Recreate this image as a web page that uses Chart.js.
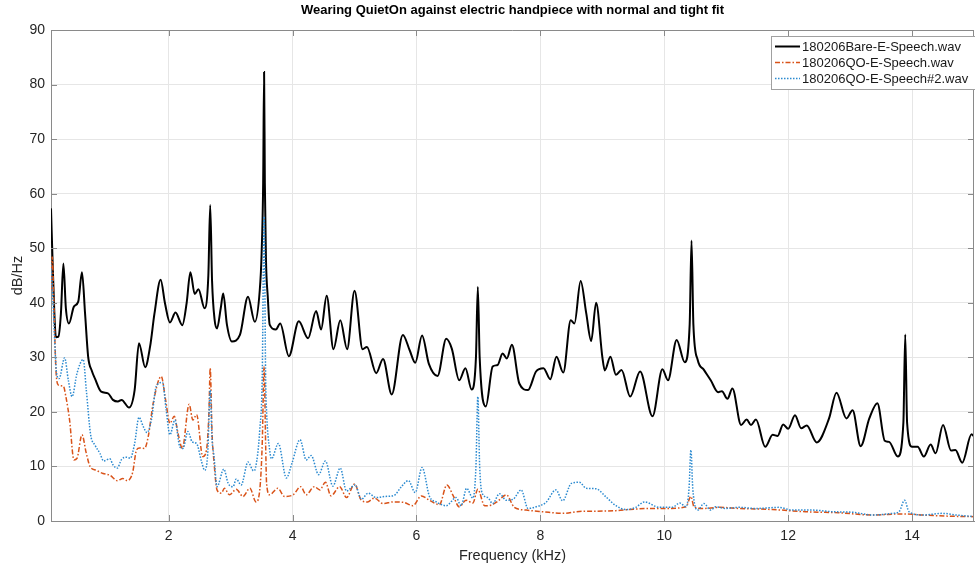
<!DOCTYPE html>
<html>
<head>
<meta charset="utf-8">
<script src="https://cdn.jsdelivr.net/npm/chart.js@4.4.1/dist/chart.umd.min.js"></script>
<style>
  html, body { margin: 0; padding: 0; background: #fff; }
</style>
</head>
<body>
<canvas id="psd" width="975" height="570"></canvas>
<script>
// values (kHz, dB/Hz)
var freqBare = [0.10, 0.13, 0.18, 0.22, 0.26, 0.30, 0.34, 0.39, 0.47, 0.54, 0.60, 0.65, 0.70, 0.76, 0.81, 0.91,
  1.02, 1.10, 1.18, 1.24, 1.36, 1.45, 1.52, 1.62, 1.70, 1.77, 1.87, 1.94, 2.02, 2.11, 2.22, 2.29, 2.35, 2.42,
  2.48, 2.58, 2.64, 2.67, 2.70, 2.74, 2.78, 2.84, 2.88, 2.94, 3.02, 3.15, 3.28, 3.39, 3.47, 3.50, 3.525, 3.54,
  3.552, 3.57, 3.60, 3.63, 3.73, 3.80, 3.94, 4.10, 4.25, 4.38, 4.46, 4.55, 4.66, 4.77, 4.88, 5.00, 5.13, 5.20,
  5.35, 5.46, 5.60, 5.78, 5.89, 5.98, 6.09, 6.20, 6.34, 6.48, 6.57, 6.69, 6.79, 6.89, 6.96, 6.99, 7.02, 7.12,
  7.23, 7.31, 7.39, 7.46, 7.54, 7.66, 7.80, 7.93, 8.05, 8.16, 8.26, 8.37, 8.49, 8.55, 8.65, 8.74, 8.82, 8.90,
  9.00, 9.04, 9.13, 9.22, 9.31, 9.45, 9.61, 9.81, 9.97, 10.06, 10.20, 10.33, 10.41, 10.44, 10.47, 10.54, 10.64,
  10.75, 10.87, 10.93, 11.02, 11.10, 11.24, 11.33, 11.40, 11.48, 11.63, 11.75, 11.83, 11.92, 12.00, 12.11,
  12.21, 12.30, 12.46, 12.66, 12.78, 12.94, 13.04, 13.17, 13.31, 13.44, 13.56, 13.63, 13.77, 13.86, 13.89,
  13.92, 14.00, 14.09, 14.19, 14.30, 14.38, 14.50, 14.63, 14.70, 14.81, 14.96, 15.00];
var dbBare = [57.3, 46, 33.7, 33.8, 38, 47.2, 39, 36.2, 39.3, 40.2, 45.6, 38, 30.1, 27.5, 26.1, 23.7,
  23.4, 22.2, 21.9, 22.2, 20.8, 24, 32.6, 28.2, 32, 38, 44.2, 39.9, 36.4, 38.2, 35.9, 40, 45.6, 41.6,
  42.5, 39, 45, 57.9, 44, 37, 35.3, 39, 41.7, 36, 32.9, 34.1, 41.1, 36.5, 42.3, 49, 62, 82.3,
  62, 48, 41, 36, 35.1, 36.2, 30.2, 36.6, 33.5, 38.5, 35.1, 41.3, 31.5, 36.8, 31.5, 42.2, 31.5, 31.9,
  27.1, 29.7, 23.2, 34.1, 31.3, 29.0, 34.0, 28.8, 26.6, 33.4, 31.6, 25.8, 28.0, 24.1, 30, 42.9, 30, 21.0,
  28.3, 28.6, 30.7, 29.8, 32.3, 25.2, 24.0, 27.4, 28.0, 26.0, 30.1, 27.2, 36.8, 36.2, 44.0, 38.1, 33.0, 40.0,
  30.1, 27.6, 30.1, 26.8, 27.7, 22.8, 27.4, 19.2, 27.8, 25.8, 33.2, 29.1, 36, 51.4, 36, 29.5, 27.7,
  25.8, 23.6, 23.8, 22.4, 24.3, 17.6, 18.6, 17.6, 18.6, 13.6, 15.8, 15.6, 17.7, 16.9, 19.4,
  17.0, 17.5, 14.4, 18.8, 23.5, 18.8, 20.3, 13.7, 18.8, 21.6, 14.7, 14.5, 11.8, 18, 34.2,
  18, 13.6, 13.6, 11.8, 14.0, 12.4, 17.6, 12.9, 13.0, 10.7, 15.9, 15.5];

var freqQO = [0.10, 0.12, 0.15, 0.18, 0.22, 0.30, 0.34, 0.40, 0.47, 0.52, 0.60, 0.67, 0.73, 0.83, 0.94, 1.05,
  1.17, 1.26, 1.33, 1.38, 1.42, 1.48, 1.53, 1.61, 1.67, 1.75, 1.88, 1.95, 2.02, 2.09, 2.15, 2.22, 2.33, 2.39,
  2.45, 2.55, 2.61, 2.65, 2.67, 2.70, 2.73, 2.78, 2.85, 2.90, 2.98, 3.09, 3.20, 3.31, 3.41, 3.47, 3.51, 3.54,
  3.565, 3.58, 3.63, 3.76, 3.87, 4.01, 4.13, 4.22, 4.35, 4.44, 4.53, 4.62, 4.76, 4.87, 5.00, 5.11, 5.21, 5.32,
  5.46, 5.62, 5.80, 5.94, 6.08, 6.21, 6.37, 6.49, 6.59, 6.69, 6.80, 6.91, 6.99, 7.10, 7.20, 7.31, 7.45, 7.58,
  7.77, 8.04, 8.36, 8.68, 8.90, 9.22, 9.44, 9.76, 10.02, 10.35, 10.43, 10.48, 10.62, 10.89, 11.21, 11.75,
  12.28, 12.82, 13.36, 13.84, 14.17, 14.54, 15.00];
var dbQO = [42.3, 48.4, 38, 27.7, 24.9, 24.7, 22.8, 18.5, 11.2, 11.5, 15.8, 12.4, 10.0, 9.3, 8.7, 8.4,
  7.4, 7.8, 7.4, 7.8, 9.0, 13.0, 13.4, 13.3, 15.5, 21.6, 26.5, 22.2, 17.9, 19.2, 16.1, 13.3, 21.4, 18.5,
  19.5, 11.8, 13.0, 20, 28.0, 16, 11, 5.7, 5.1, 6.0, 4.8, 5.8, 4.5, 6.0, 3.5, 5.7, 14.2, 28.3,
  14, 6.9, 4.8, 6.0, 4.5, 4.8, 6.3, 4.8, 6.3, 5.7, 7.1, 4.6, 6.3, 4.3, 6.8, 3.8, 3.5, 4.2,
  3.2, 3.5, 3.4, 2.8, 4.6, 3.8, 3.0, 6.6, 4.7, 2.6, 3.8, 3.3, 5.8, 2.8, 2.9, 3.6, 4.8, 2.5,
  2.0, 1.7, 1.4, 1.8, 1.8, 1.9, 2.1, 2.3, 2.3, 2.6, 4.5, 2.6, 2.3, 2.5, 2.3, 2.1,
  1.7, 1.5, 1.1, 1.3, 1.1, 0.9, 0.8];

var freqQO2 = [0.10, 0.13, 0.15, 0.19, 0.23, 0.32, 0.38, 0.44, 0.52, 0.62, 0.67, 0.74, 0.81, 0.89, 0.95, 1.05,
  1.10, 1.17, 1.24, 1.32, 1.38, 1.45, 1.52, 1.59, 1.65, 1.72, 1.80, 1.90, 1.96, 2.02, 2.10, 2.18, 2.23, 2.31,
  2.38, 2.45, 2.53, 2.58, 2.63, 2.67, 2.70, 2.73, 2.78, 2.89, 2.96, 3.04, 3.09, 3.17, 3.28, 3.37, 3.40, 3.47,
  3.51, 3.54, 3.565, 3.58, 3.63, 3.66, 3.77, 3.90, 3.99, 4.12, 4.22, 4.30, 4.42, 4.53, 4.65, 4.77, 4.87, 5.01,
  5.11, 5.22, 5.35, 5.50, 5.64, 5.75, 5.87, 5.98, 6.09, 6.21, 6.32, 6.48, 6.64, 6.72, 6.81, 6.91, 6.96, 6.99,
  7.02, 7.06, 7.15, 7.23, 7.34, 7.45, 7.56, 7.69, 7.80, 7.93, 8.09, 8.25, 8.36, 8.50, 8.63, 8.74, 8.90, 9.06,
  9.22, 9.38, 9.54, 9.68, 9.92, 10.13, 10.25, 10.35, 10.40, 10.43, 10.46, 10.54, 10.64, 10.75, 10.83, 10.99,
  11.21, 11.48, 11.85, 12.07, 12.39, 12.72, 13.04, 13.36, 13.69, 13.79, 13.88, 13.95, 14.17, 14.49, 14.71, 15.00];
var dbQO2 = [46.9, 41, 35.6, 27.1, 26.1, 29.9, 25.8, 22.8, 27.1, 29.6, 24.0, 15.8, 13.9, 12.4, 11.0, 11.4,
  10.3, 9.7, 11.3, 11.7, 11.5, 14.2, 19.0, 17.3, 16.2, 18.5, 24.7, 25.4, 20.3, 15.8, 18.5, 13.6, 13.3, 16.4,
  14.5, 14.2, 10.9, 9.3, 12.4, 24, 15, 12, 6.3, 9.5, 6.9, 6.3, 7.7, 6.6, 10.8, 9.2, 9.7, 16.7,
  26.5, 55.8, 26, 20, 13, 11.4, 14.2, 7.9, 10.6, 14.9, 11.2, 12.0, 8.5, 11.0, 6.4, 9.7, 5.5, 6.6,
  4.0, 5.1, 4.3, 4.5, 4.7, 6.2, 7.4, 5.2, 9.8, 4.5, 3.5, 2.8, 4.3, 2.8, 6.0, 4.2, 10, 22.8,
  10, 5.1, 4.3, 3.2, 5.0, 3.8, 4.0, 5.7, 2.3, 2.6, 3.4, 5.7, 3.7, 6.9, 7.1, 6.0, 5.9, 4.4,
  2.8, 2.1, 2.5, 3.5, 2.5, 2.5, 3.3, 2.6, 6, 13.0, 6, 2.0, 3.2, 2.0, 2.6, 2.3,
  2.5, 2.3, 2.5, 2.0, 2.0, 1.7, 1.6, 1.1, 1.4, 1.7, 3.8, 1.7, 1.1, 1.4, 1.1, 0.8];

var xTicks = [2, 4, 6, 8, 10, 12, 14];
var seriesLabels = ['180206Bare-E-Speech.wav', '180206QO-E-Speech.wav', '180206QO-E-Speech#2.wav'];

function toPoints(xs, ys) {
  return xs.map(function(x, i) { return {x: x, y: ys[i]}; });
}

var FONT = '"Liberation Sans", Arial, Helvetica, sans-serif';

// matlab-ish axes box, inner ticks and legend
var boxPlugin = {
  id: 'box',
  afterDraw: function(chart) {
    var ctx = chart.ctx, a = chart.chartArea;
    var xs = chart.scales.x, ys = chart.scales.y;
    ctx.save();
    ctx.strokeStyle = '#8a8a8a';
    ctx.lineWidth = 1;
    ctx.beginPath();
    ctx.moveTo(a.left, a.top + 0.5);
    ctx.lineTo(a.right, a.top + 0.5);
    ctx.moveTo(a.right - 0.5, a.top);
    ctx.lineTo(a.right - 0.5, a.bottom);
    xTicks.forEach(function(t) {
      var px = Math.round(xs.getPixelForValue(t)) + 0.5;
      ctx.moveTo(px, a.bottom); ctx.lineTo(px, a.bottom - 6);
      ctx.moveTo(px, a.top); ctx.lineTo(px, a.top + 6);
    });
    ys.ticks.forEach(function(t) {
      var py = Math.round(ys.getPixelForValue(t.value)) + 0.5;
      ctx.moveTo(a.left, py); ctx.lineTo(a.left + 6, py);
      ctx.moveTo(a.right, py); ctx.lineTo(a.right - 6, py);
    });
    ctx.stroke();

    // legend
    var lx = 771.5, ly = 36.5, lw = 220, lh = 53;
    ctx.fillStyle = '#fff';
    ctx.fillRect(lx, ly, lw, lh);
    ctx.strokeStyle = '#a0a0a0';
    ctx.strokeRect(lx, ly, lw, lh);
    ctx.font = '13px ' + FONT;
    ctx.textBaseline = 'middle';
    ctx.textAlign = 'left';
    chart.data.datasets.forEach(function(ds, i) {
      var y = 46.5 + i * 16;
      ctx.strokeStyle = ds.borderColor;
      ctx.lineWidth = ds.borderWidth;
      ctx.setLineDash(ds.borderDash || []);
      ctx.beginPath();
      ctx.moveTo(775, y);
      ctx.lineTo(800, y);
      ctx.stroke();
      ctx.setLineDash([]);
      ctx.fillStyle = '#1a1a1a';
      ctx.fillText(ds.label, 802, y + 0.5);
    });
    ctx.restore();
  }
};

Chart.defaults.font.family = FONT;
Chart.defaults.color = '#262626';

var chart = new Chart('psd', {
  type: 'line',
  data: {
    datasets: [
      {
        label: seriesLabels[0],
        data: toPoints(freqBare, dbBare),
        borderColor: '#000000',
        borderWidth: 2,
        pointRadius: 0,
        cubicInterpolationMode: 'monotone',
        order: 3
      },
      {
        label: seriesLabels[1],
        data: toPoints(freqQO, dbQO),
        borderColor: '#D95319',
        borderWidth: 1.5,
        borderDash: [5, 2, 1.5, 2],
        pointRadius: 0,
        cubicInterpolationMode: 'monotone',
        order: 2
      },
      {
        label: seriesLabels[2],
        data: toPoints(freqQO2, dbQO2),
        borderColor: '#2b8ad0',
        borderWidth: 1.5,
        borderDash: [1.5, 1.5],
        pointRadius: 0,
        cubicInterpolationMode: 'monotone',
        order: 1
      }
    ]
  },
  options: {
    responsive: false,
    animation: false,
    layout: { padding: { left: 0, right: 1, top: 0, bottom: 0 } },
    plugins: {
      legend: { display: false },
      tooltip: { enabled: false },
      title: {
        display: true,
        fullSize: false,
        text: 'Wearing QuietOn against electric handpiece with normal and tight fit',
        color: '#000',
        font: { size: 13, weight: 'bold' },
        padding: { top: 3, bottom: 11.4 }
      }
    },
    scales: {
      x: {
        type: 'linear',
        min: 0.1,
        max: 15,
        afterBuildTicks: function(s) { s.ticks = xTicks.map(function(v) { return {value: v}; }); },
        afterFit: function(s) { s.height = 49; },
        grid: { color: '#e6e6e6', drawTicks: false },
        border: { color: '#8a8a8a' },
        ticks: { padding: 7, font: { size: 14 }, maxRotation: 0 },
        title: { display: true, text: 'Frequency (kHz)', font: { size: 14.5 }, padding: { top: 0, bottom: 5 } }
      },
      y: {
        min: 0,
        max: 90,
        afterFit: function(s) { s.width = 51; },
        grid: { color: '#e6e6e6', drawTicks: false },
        border: { color: '#8a8a8a' },
        ticks: { stepSize: 10, padding: 6, font: { size: 14 } },
        title: { display: true, text: 'dB/Hz', font: { size: 14.5 }, padding: { top: 9, bottom: 0 } }
      }
    }
  },
  plugins: [boxPlugin]
});
</script>
</body>
</html>
